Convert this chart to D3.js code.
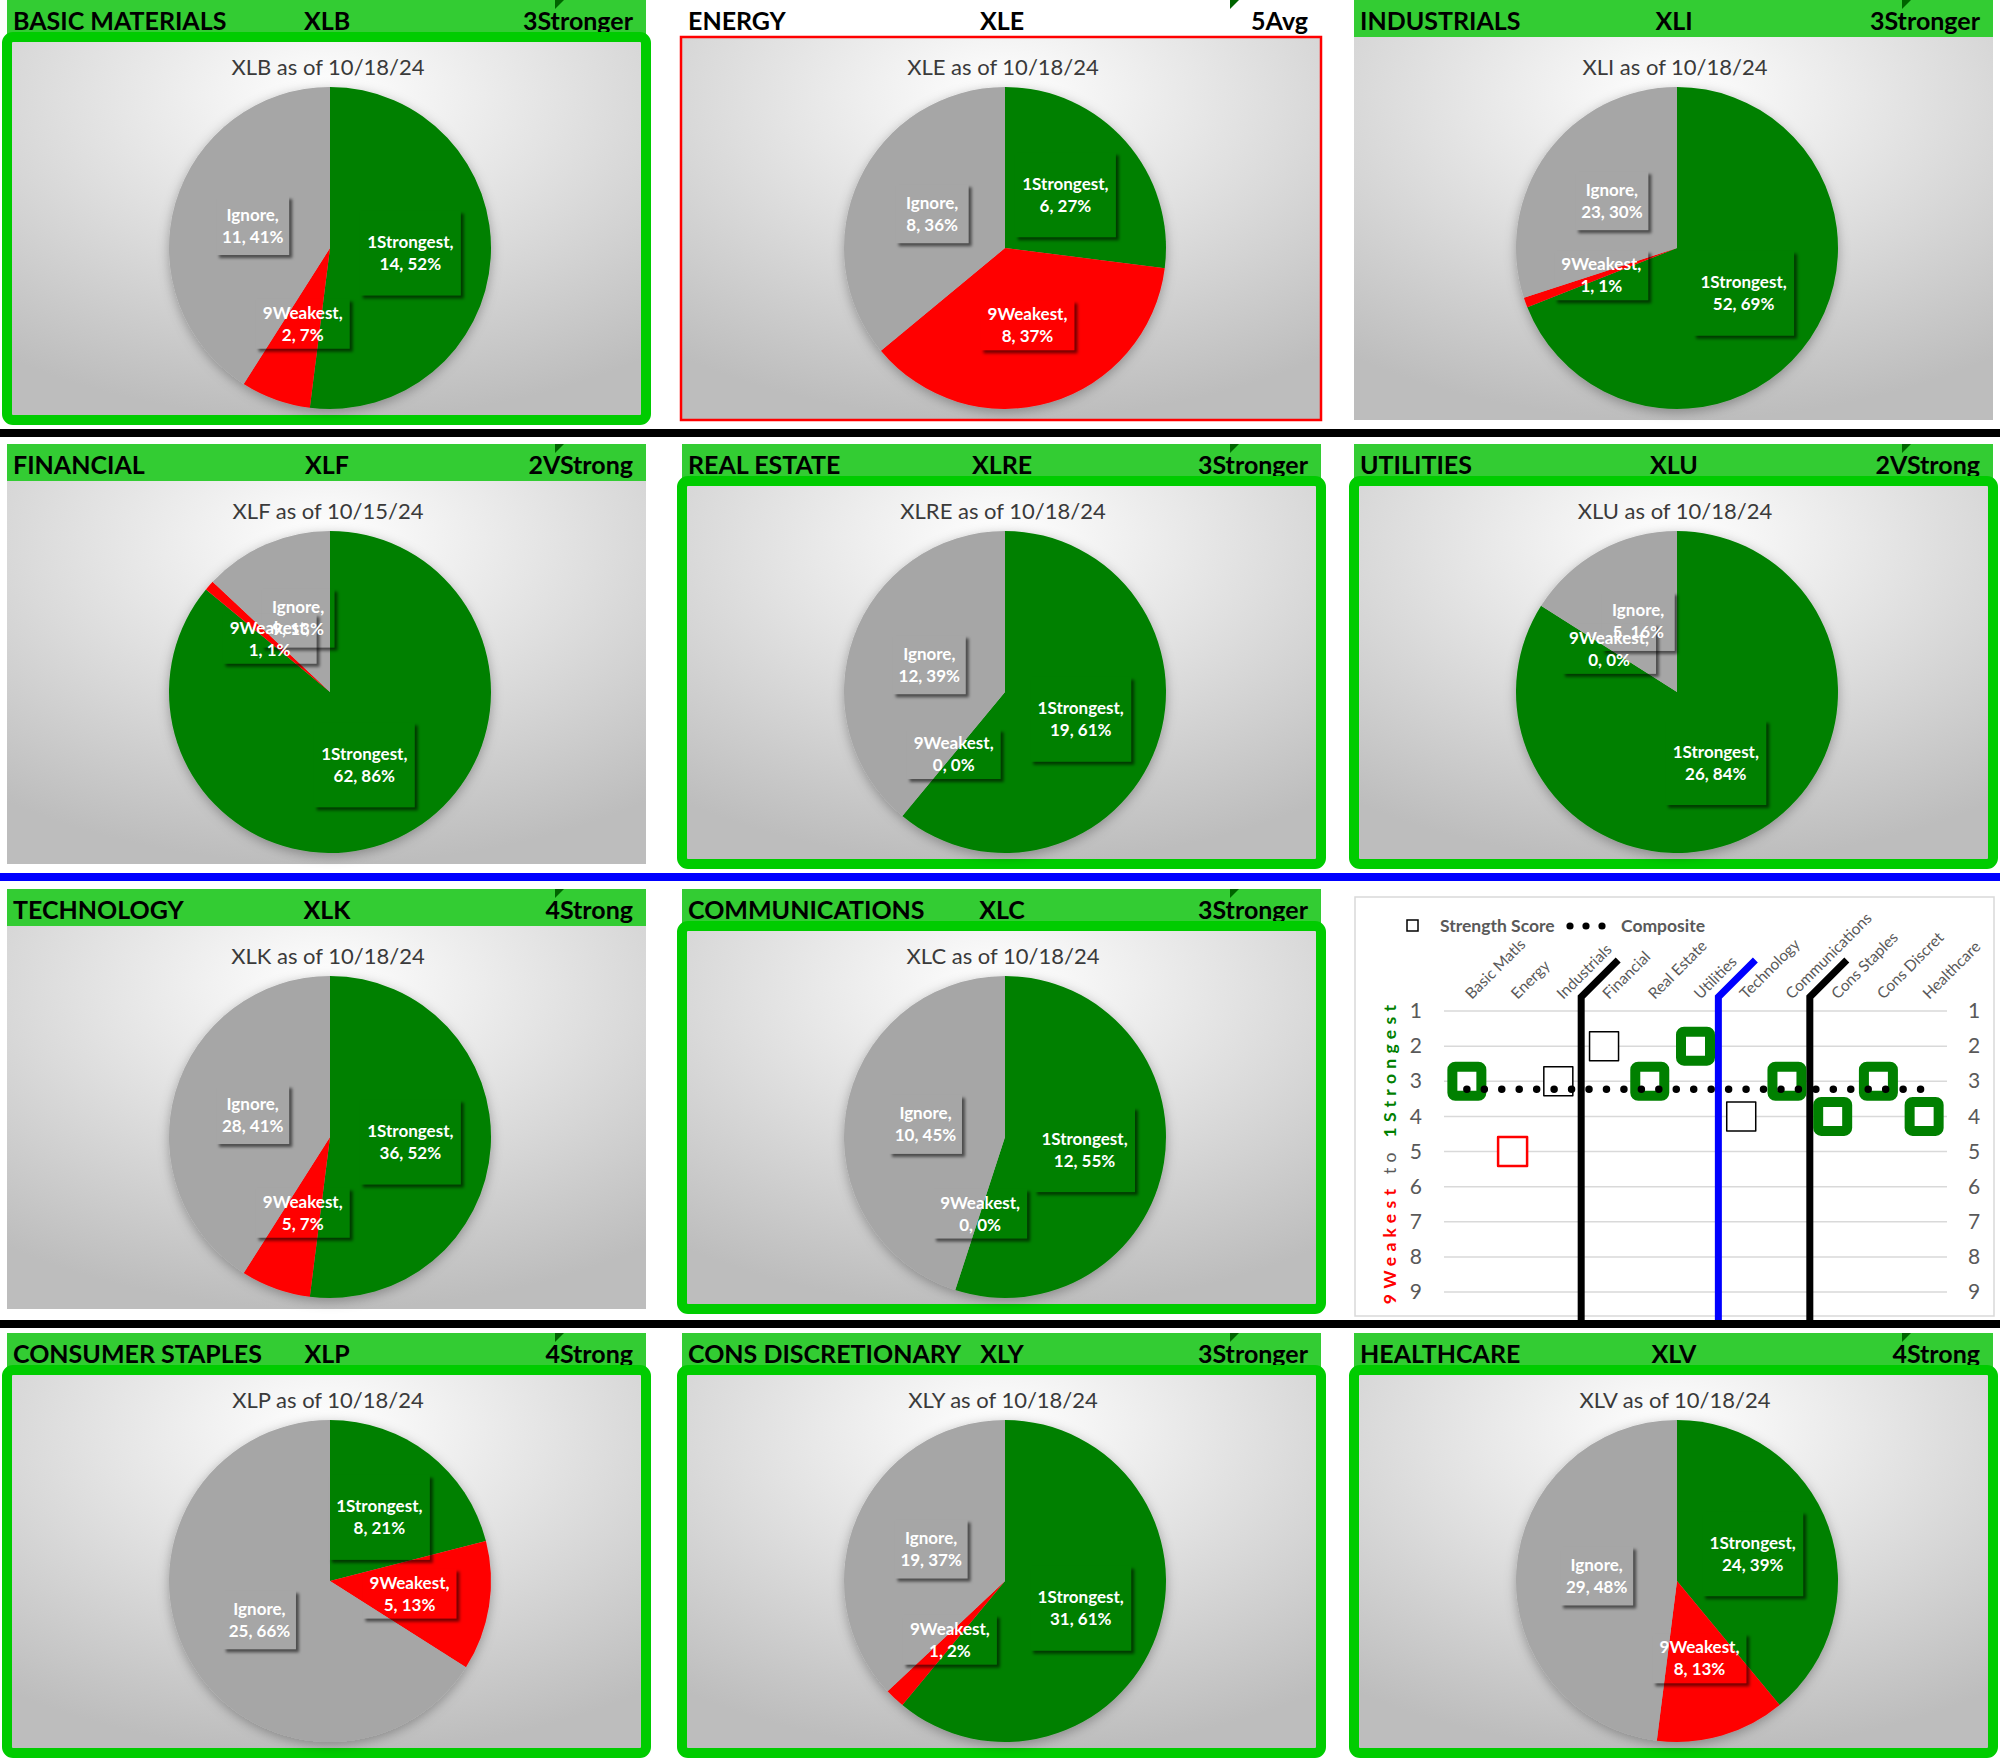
<!DOCTYPE html>
<html>
<head>
<meta charset="utf-8">
<script src="https://cdn.jsdelivr.net/npm/d3@7"></script>
<style>
  body { margin: 0; background: #fff; }
  svg { display: block; }
</style>
</head>
<body>
<div id="chart"></div>
<script>
// ---- Daten ----
const sectors = ["BASIC MATERIALS", "ENERGY", "INDUSTRIALS", "FINANCIAL", "REAL ESTATE", "UTILITIES",
    "TECHNOLOGY", "COMMUNICATIONS", "CONSUMER STAPLES", "CONS DISCRETIONARY", "HEALTHCARE"];
const tickers = ["XLB", "XLE", "XLI", "XLF", "XLRE", "XLU", "XLK", "XLC", "XLP", "XLY", "XLV"];
const ratings = ["3Stronger", "5Avg", "3Stronger", "2VStrong", "3Stronger", "2VStrong",
    "4Strong", "3Stronger", "4Strong", "3Stronger", "4Strong"];
const asOfDates = ["10/18/24", "10/18/24", "10/18/24", "10/15/24", "10/18/24", "10/18/24",
    "10/18/24", "10/18/24", "10/18/24", "10/18/24", "10/18/24"];
// "strong" = grüner Rahmen, "weak" = roter Rahmen, "" = ohne
const signal = ["strong", "weak", "", "", "strong", "strong", "", "strong", "strong", "strong", "strong"];

const sliceNames = ["1Strongest", "9Weakest", "Ignore"];
const strongestCount = [14, 6, 52, 62, 19, 26, 36, 12, 8, 31, 24];
const strongestPct   = [52, 27, 69, 86, 61, 84, 52, 55, 21, 61, 39];
const weakestCount   = [2, 8, 1, 1, 0, 0, 5, 0, 5, 1, 8];
const weakestPct     = [7, 37, 1, 1, 0, 0, 7, 0, 13, 2, 13];
const ignoreCount    = [11, 8, 23, 9, 12, 5, 28, 10, 25, 19, 29];
const ignorePct      = [41, 36, 30, 13, 39, 16, 41, 45, 66, 37, 48];

// Strength-Chart
const shortNames = ["Basic Matls", "Energy", "Industrials", "Financial", "Real Estate", "Utilities",
    "Technology", "Communications", "Cons Staples", "Cons Discret", "Healthcare"];
const strengthScore = [3, 5, 3, 2, 3, 2, 4, 3, 4, 3, 4];
const composite = [3.23, 3.23, 3.23, 3.23, 3.23, 3.23, 3.23, 3.23, 3.23, 3.23, 3.23];
const scoreTicks = [1, 2, 3, 4, 5, 6, 7, 8, 9];
const dividers = ["Financial", "Technology", "Cons Staples"];

// ---- Konfiguration ----
const W = 2000, H = 1764;
const FONT = "Lato, 'Open Sans', sans-serif";
const sliceColor = {"1Strongest": "#008000", "9Weakest": "#ff0000", "Ignore": "#a6a6a6"};
const boxSize = {"1Strongest": [101, 85], "9Weakest": [94, 50], "Ignore": [73, 59]};
const colX = [7, 682, 1354];
const rowY = [0, 444, 889, 1333];
const panelW = 639;
const radius = 161;

const counts = [strongestCount, weakestCount, ignoreCount];
const pcts = [strongestPct, weakestPct, ignorePct];

const svg = d3.select("#chart").append("svg")
    .attr("width", W)
    .attr("height", H)
    .attr("font-family", FONT);

const defs = svg.append("defs");

// Hintergrund-Verlauf der Diagrammfläche
const grad = defs.append("radialGradient")
    .attr("id", "bgGrad")
    .attr("cx", "50%").attr("cy", "15%").attr("r", "85%");
grad.append("stop").attr("offset", "0%").attr("stop-color", "#ffffff");
grad.append("stop").attr("offset", "100%").attr("stop-color", "#bdbdbd");

// Schatten um den Kuchen
const pieF = defs.append("filter").attr("id", "pieShadow")
    .attr("x", "-20%").attr("y", "-20%").attr("width", "140%").attr("height", "140%");
pieF.append("feDropShadow")
    .attr("dx", 0).attr("dy", 3).attr("stdDeviation", 6)
    .attr("flood-color", "#000").attr("flood-opacity", 0.3);

// Schatten der (transparenten) Beschriftungsboxen, nur außerhalb der Box
const boxF = defs.append("filter").attr("id", "boxShadow")
    .attr("x", "-20%").attr("y", "-20%").attr("width", "150%").attr("height", "150%");
boxF.append("feGaussianBlur").attr("in", "SourceAlpha").attr("stdDeviation", 1.4).attr("result", "blur");
boxF.append("feOffset").attr("in", "blur").attr("dx", 3).attr("dy", 3).attr("result", "off");
boxF.append("feFlood").attr("flood-color", "#000").attr("flood-opacity", 0.55).attr("result", "col");
boxF.append("feComposite").attr("in", "col").attr("in2", "off").attr("operator", "in").attr("result", "sh");
boxF.append("feComposite").attr("in", "sh").attr("in2", "SourceAlpha").attr("operator", "out");

// Trennlinien über die ganze Breite
const separators = [{y: 429, c: "#000"}, {y: 873, c: "#0000ff"}, {y: 1320, c: "#000"}];
svg.selectAll(".sep")
    .data(separators)
    .join("rect")
    .attr("class", "sep")
    .attr("x", 0)
    .attr("y", d => d.y)
    .attr("width", W)
    .attr("height", 8)
    .attr("fill", d => d.c);

const pie = d3.pie().sort(null).value(d => d.pct);
const arc = d3.arc().innerRadius(0).outerRadius(radius);

// ---- Kuchen-Panels ----
tickers.forEach((ticker, i) => {
    const slot = i < 8 ? i : i + 1;
    const x0 = colX[slot % 3];
    const top = rowY[Math.floor(slot / 3)];
    const g = svg.append("g").attr("transform", `translate(${x0},${top})`);

    // Kopfzeile
    if (signal[i] !== "weak") {
        g.append("rect").attr("width", panelW).attr("height", 38).attr("fill", "#33cc33");
    }
    g.append("path").attr("d", "M548,0H557L548,9Z").attr("fill", "#006400");

    const head = g.append("g")
        .attr("font-weight", "bold")
        .attr("font-size", 25)
        .attr("fill", "#000");
    head.append("text").attr("x", 6).attr("y", 30).text(sectors[i]);
    head.append("text").attr("x", 320).attr("y", 30).attr("text-anchor", "middle").text(ticker);
    head.append("text").attr("x", 626).attr("y", 30).attr("text-anchor", "end").text(ratings[i]);

    // Diagrammfläche
    g.append("rect")
        .attr("y", 37)
        .attr("width", panelW)
        .attr("height", 383)
        .attr("fill", "url(#bgGrad)");

    if (signal[i] === "strong") {
        g.append("rect")
            .attr("y", 37).attr("width", panelW).attr("height", 383)
            .attr("rx", 6)
            .attr("fill", "none")
            .attr("stroke", "#00cc00")
            .attr("stroke-width", 10);
    } else if (signal[i] === "weak") {
        g.append("rect")
            .attr("x", -1).attr("y", 37).attr("width", panelW + 1).attr("height", 383)
            .attr("fill", "none")
            .attr("stroke", "#ff0000")
            .attr("stroke-width", 2.5);
    }

    // Titel
    g.append("text")
        .attr("x", 321)
        .attr("y", 75)
        .attr("text-anchor", "middle")
        .attr("font-size", 22)
        .attr("fill", "#3a3a3a")
        .text(`${ticker} as of ${asOfDates[i]}`);

    const data = sliceNames.map((name, k) => ({name, count: counts[k][i], pct: pcts[k][i]}));
    const arcs = pie(data);

    const pg = g.append("g").attr("transform", `translate(323,248)`);

    pg.append("g")
        .attr("filter", "url(#pieShadow)")
        .selectAll("path")
        .data(arcs)
        .join("path")
        .attr("d", arc)
        .attr("fill", d => sliceColor[d.data.name]);

    // Beschriftungsboxen (nur Schatten sichtbar)
    pg.selectAll(".lbox")
        .data(arcs)
        .join("rect")
        .attr("class", "lbox")
        .attr("x", d => arc.centroid(d)[0] - boxSize[d.data.name][0] / 2)
        .attr("y", d => arc.centroid(d)[1] - boxSize[d.data.name][1] / 2)
        .attr("width", d => boxSize[d.data.name][0])
        .attr("height", d => boxSize[d.data.name][1])
        .attr("fill", "#000")
        .attr("filter", "url(#boxShadow)");

    const lbl = pg.selectAll(".lbl")
        .data(arcs)
        .join("text")
        .attr("class", "lbl")
        .attr("text-anchor", "middle")
        .attr("font-size", 17)
        .attr("font-weight", "bold")
        .attr("fill", "#fff");
    lbl.append("tspan")
        .attr("x", d => arc.centroid(d)[0])
        .attr("y", d => arc.centroid(d)[1] - 5)
        .text(d => `${d.data.name},`);
    lbl.append("tspan")
        .attr("x", d => arc.centroid(d)[0])
        .attr("y", d => arc.centroid(d)[1] + 17)
        .text(d => `${d.data.count}, ${d.data.pct}%`);
});

// ---- Strength-Score-Chart ----
const sc = svg.append("g");
sc.append("rect")
    .attr("x", 1355).attr("y", 897)
    .attr("width", 639).attr("height", 419)
    .attr("fill", "#fff")
    .attr("stroke", "#d9d9d9")
    .attr("stroke-width", 1.5);

const x = d3.scaleBand().domain(shortNames).range([1444, 1947]);
const y = d3.scaleLinear().domain([1, 9]).range([1011, 1292]);
const cx = d => x(d) + x.bandwidth() / 2;

// Gitterlinien
sc.selectAll(".grid")
    .data(scoreTicks)
    .join("line")
    .attr("class", "grid")
    .attr("x1", 1444).attr("x2", 1947)
    .attr("y1", d => y(d)).attr("y2", d => y(d))
    .attr("stroke", "#d9d9d9")
    .attr("stroke-width", 1.5);

// Achsen links und rechts
const axL = sc.append("g")
    .attr("transform", "translate(1422,0)")
    .call(d3.axisLeft(y).tickValues(scoreTicks).tickSize(0).tickPadding(0));
const axR = sc.append("g")
    .attr("transform", "translate(1968,0)")
    .call(d3.axisRight(y).tickValues(scoreTicks).tickSize(0).tickPadding(0));
[axL, axR].forEach(ax => {
    ax.select(".domain").remove();
    ax.attr("font-family", FONT).attr("font-size", 21);
    ax.selectAll("text").attr("fill", "#595959");
});

// Kategorien (schräg)
sc.selectAll(".cat")
    .data(shortNames)
    .join("text")
    .attr("class", "cat")
    .attr("transform", d => `translate(${cx(d) + 5},1000) rotate(-45)`)
    .attr("font-size", 15.5)
    .attr("fill", "#595959")
    .text(d => d);

// Y-Achsentitel
const yt = sc.append("text")
    .attr("transform", "translate(1396,1152) rotate(-90)")
    .attr("text-anchor", "middle")
    .attr("font-size", 17.5)
    .attr("letter-spacing", 5.3);
yt.append("tspan").attr("fill", "#ff0000").attr("font-weight", "bold").text("9Weakest");
yt.append("tspan").attr("fill", "#595959").text(" to ");
yt.append("tspan").attr("fill", "#008000").attr("font-weight", "bold").text("1Strongest");

// Trennlinien zwischen Gruppen
const dividerColor = {"Financial": "#000", "Technology": "#0000ff", "Cons Staples": "#000"};
sc.selectAll(".div")
    .data(dividers)
    .join("path")
    .attr("class", "div")
    .attr("d", d => `M${x(d)},1320V997L${x(d) + 37},960`)
    .attr("fill", "none")
    .attr("stroke", d => dividerColor[d])
    .attr("stroke-width", 7);

// Strength-Score-Marker
const scoreData = shortNames.map((n, i) => ({name: n, score: strengthScore[i], sig: signal[i]}));
sc.selectAll(".mk")
    .data(scoreData)
    .join("rect")
    .attr("class", "mk")
    .attr("x", d => cx(d.name) - 14.5)
    .attr("y", d => y(d.score) - 14.5)
    .attr("width", 29)
    .attr("height", 29)
    .attr("rx", d => d.sig === "strong" ? 3 : 0)
    .attr("fill", "#fff")
    .attr("stroke", d => d.sig === "strong" ? "#008000" : d.sig === "weak" ? "#ff0000" : "#000")
    .attr("stroke-width", d => d.sig === "strong" ? 10 : d.sig === "weak" ? 2.5 : 1.5)
    .attr("stroke-linejoin", "round");

// Composite-Linie (gepunktet)
const compLine = d3.line()
    .x((d, i) => cx(shortNames[i]))
    .y(d => y(d));
sc.append("path")
    .datum(composite)
    .attr("d", compLine)
    .attr("fill", "none")
    .attr("stroke", "#000")
    .attr("stroke-width", 7.5)
    .attr("stroke-linecap", "round")
    .attr("stroke-dasharray", "0 17.45");

// Legende
sc.append("rect")
    .attr("x", 1407).attr("y", 920)
    .attr("width", 11).attr("height", 11)
    .attr("fill", "none")
    .attr("stroke", "#000")
    .attr("stroke-width", 1.5);
sc.append("text")
    .attr("x", 1440).attr("y", 932)
    .attr("font-size", 17.5).attr("font-weight", "bold").attr("fill", "#595959")
    .text("Strength Score");
sc.selectAll(".ldot")
    .data([0, 1, 2])
    .join("circle")
    .attr("class", "ldot")
    .attr("cx", d => 1570 + d * 16)
    .attr("cy", 926)
    .attr("r", 3.6)
    .attr("fill", "#000");
sc.append("text")
    .attr("x", 1621).attr("y", 932)
    .attr("font-size", 17.5).attr("font-weight", "bold").attr("fill", "#595959")
    .text("Composite");
</script>
</body>
</html>
